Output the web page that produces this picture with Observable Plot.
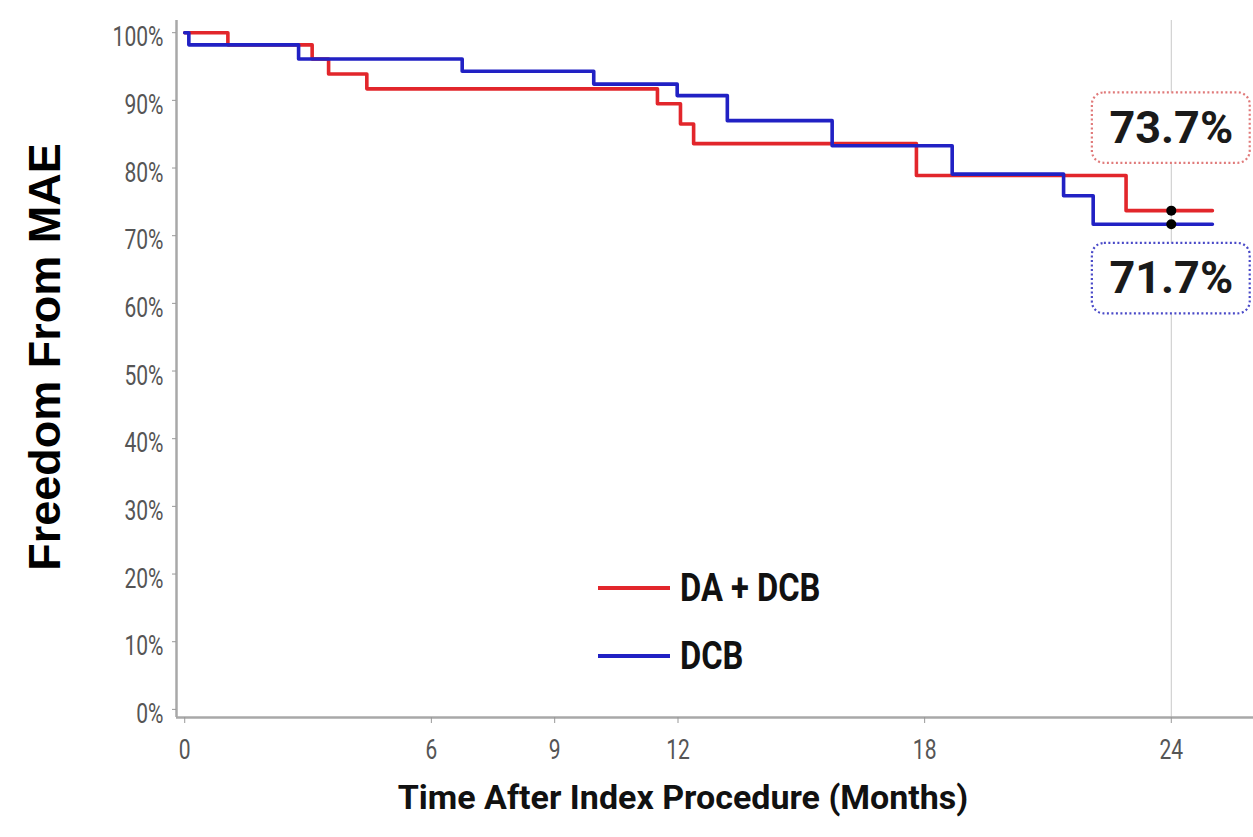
<!DOCTYPE html>
<html><head><meta charset="utf-8">
<script src="https://cdn.jsdelivr.net/npm/d3@7"></script>
<script src="https://cdn.jsdelivr.net/npm/@observablehq/plot@0.6"></script>
<style>
body{margin:0;background:#fff;}
#wrap{position:relative;width:1253px;height:837px;overflow:hidden;}
.lg{position:absolute;left:598px;display:flex;align-items:center;font-family:Roboto,"Liberation Sans",sans-serif;font-weight:bold;font-size:38px;color:#111;}
.lg .sw{width:72px;height:4px;margin-right:10px;}
.lg span{display:inline-block;transform:scaleX(0.86);transform-origin:left center;}
</style></head><body><div id="wrap"></div>
<script>
// Kaplan–Meier step data (months, % freedom from MAE)
const daTime  = [0, 1.05, 3.1, 3.5, 4.43, 11.5, 12.06, 12.38, 17.8, 22.9, 25.0];
const daSurv  = [100, 98.2, 96.1, 93.9, 91.7, 89.5, 86.5, 83.6, 78.9, 73.7, 73.7];
const dcbTime = [0, 0.1, 2.77, 6.75, 9.95, 11.98, 13.2, 15.75, 18.67, 21.38, 22.1, 25.0];
const dcbSurv = [100, 98.2, 96.1, 94.3, 92.4, 90.7, 87.0, 83.3, 79.1, 75.9, 71.7, 71.7];
const seriesNames  = ["DA + DCB", "DCB"];
const seriesColors = ["#e2262b", "#2121c4"];
const boxStrokes   = ["#e07a7a", "#4a4ac8"];
const xTicks = [0, 6, 9, 12, 18, 24];
const yTicks = [0, 10, 20, 30, 40, 50, 60, 70, 80, 90, 100];
const landmarkTime = 24;
const landmarkValues = [73.7, 71.7];
const xTitle = "Time After Index Procedure (Months)";
const yTitle = "Freedom From MAE";

const xDomain = [-0.2, 26];
const yDomain = [-1.2, 101.8];

const da  = daTime.map((t, i) => ({t, s: daSurv[i]}));
const dcb = dcbTime.map((t, i) => ({t, s: dcbSurv[i]}));
const boxOffset = [12.2, -8.05];
const marks = landmarkValues.map((v, i) => ({v, i, c: v + boxOffset[i]}));

const cond = "Roboto, 'Liberation Sans', sans-serif";
const chart = Plot.plot({
  width: 1253, height: 837,
  marginTop: 20, marginLeft: 176, marginRight: 0, marginBottom: 120,
  style: {background: "#fff", fontFamily: cond},
  x: {domain: xDomain, axis: null},
  y: {domain: yDomain, axis: null},
  marks: [
    Plot.ruleX([landmarkTime], {stroke: "#c8c8c8", strokeWidth: 1}),
    Plot.line(da,  {x: "t", y: "s", curve: "step-after", stroke: seriesColors[0], strokeWidth: 3.6}),
    Plot.line(dcb, {x: "t", y: "s", curve: "step-after", stroke: seriesColors[1], strokeWidth: 3.6}),
    Plot.dot(marks, {x: () => landmarkTime, y: "v", r: 5, fill: "#000"}),
    Plot.rect(marks, {x1: () => landmarkTime - 1.92, x2: () => landmarkTime + 1.92,
      y1: d => d.c - 5.2, y2: d => d.c + 5.2, fill: "#fff",
      stroke: d => boxStrokes[d.i], strokeWidth: 2.2, strokeDasharray: "2,2.5", rx: 12, ry: 12}),
    Plot.text(marks, {x: () => landmarkTime, y: "c", text: d => d.v.toFixed(1) + "%",
      fontSize: 45, fontWeight: "bold", fill: "#1a1a1a", ariaLabel: "cond-big"}),
    Plot.ruleX([xDomain[0]], {stroke: "#a8a8a8", strokeWidth: 2.5}),
    Plot.ruleY([yDomain[0]], {stroke: "#a8a8a8", strokeWidth: 2.5}),
    Plot.axisY({ticks: yTicks, tickFormat: () => "", tickSize: 4, stroke: "#999", label: null}),
    Plot.axisY({ticks: yTicks, tickFormat: d => d + "%", tickSize: 0, tickPadding: 13, dy: 5,
      fontSize: 27, fill: "#555", label: null}),
    Plot.axisX({ticks: xTicks, tickSize: 6, tickPadding: 16, anchor: "bottom",
      fontSize: 27, fill: "#555", stroke: "#999", label: null}),
    Plot.text([yTitle], {frameAnchor: "left", rotate: -90, dx: -131, dy: -12, textAnchor: "middle",
      fontSize: 45, fontWeight: "bold", fill: "#000", fontFamily: "'Liberation Sans', Arial, sans-serif"}),
    Plot.text([xTitle], {frameAnchor: "bottom", dx: -32, dy: 91, fontSize: 34,
      fontWeight: "bold", fill: "#111", ariaLabel: "cond-title"})
  ]
});

function condense(sel, k) {
  sel.each(function() {
    const t = this.getAttribute("transform") || "";
    this.setAttribute("transform", t + ` scale(${k},1)`);
  });
}
const svg = d3.select(chart);
condense(svg.selectAll('g[aria-label="y-axis tick label"] text, g[aria-label="x-axis tick label"] text'), 0.78);
condense(svg.selectAll('g[aria-label="cond-big"] text'), 0.88);
condense(svg.selectAll('g[aria-label="cond-title"] text'), 0.86);

const wrap = document.getElementById("wrap");
wrap.appendChild(chart);
seriesNames.forEach((name, i) => {
  const d = document.createElement("div");
  d.className = "lg";
  d.style.top = (i === 0 ? 566 : 634) + "px";
  d.innerHTML = `<div class="sw" style="background:${seriesColors[i]}"></div><span>${name}</span>`;
  wrap.appendChild(d);
});
</script></body></html>
